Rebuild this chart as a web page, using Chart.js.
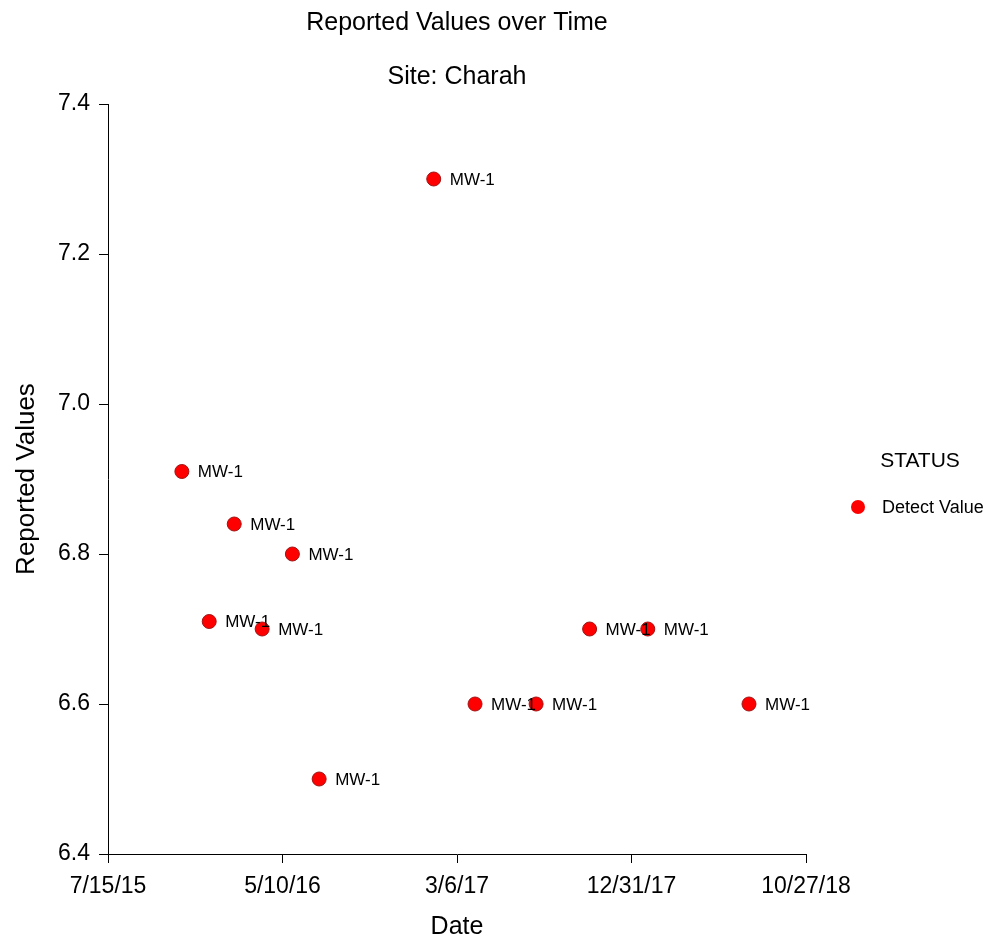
<!DOCTYPE html>
<html>
<head>
<meta charset="utf-8">
<script src="https://cdn.jsdelivr.net/npm/chart.js@4"></script>
<style>
  html, body { margin: 0; padding: 0; background: #fff; }
  #wrap { width: 988px; height: 942px; }
</style>
</head>
<body>
<div id="wrap"><canvas id="myChart"></canvas></div>
<script>
const sampleDates = ["2015-11-19", "2016-01-05", "2016-02-17", "2016-04-05", "2016-05-27", "2016-07-12",
  "2017-01-25", "2017-04-06", "2017-07-20", "2017-10-20", "2018-01-28", "2018-07-21"];
const reportedValues = [6.91, 6.71, 6.84, 6.70, 6.80, 6.50, 7.30, 6.60, 6.60, 6.70, 6.70, 6.60];
const wellLabels = ["MW-1", "MW-1", "MW-1", "MW-1", "MW-1", "MW-1", "MW-1", "MW-1", "MW-1", "MW-1", "MW-1", "MW-1"];
const xTickStart = "2015-07-15";
const xTickEnd = "2018-10-27";
const xTickStepDays = 300;
const yTicks = [6.4, 6.6, 6.8, 7.0, 7.2, 7.4];

const DAY = 86400000;
function toDay(s) {
  const p = s.split("-").map(Number);
  return Date.UTC(p[0], p[1] - 1, p[2]) / DAY;
}
function fmtDay(d) {
  const dt = new Date(Math.round(d) * DAY);
  return (dt.getUTCMonth() + 1) + "/" + dt.getUTCDate() + "/" + String(dt.getUTCFullYear()).slice(2);
}

const points = sampleDates.map((d, i) => ({ x: toDay(d), y: reportedValues[i] }));
const FONT = "Arial, 'Liberation Sans', sans-serif";

// titles centred over the plot area
const plotTitles = {
  id: "plotTitles",
  afterDraw(chart) {
    const ctx = chart.ctx;
    const a = chart.chartArea;
    const cx = (a.left + a.right) / 2;
    ctx.save();
    ctx.fillStyle = "#000";
    ctx.font = "25px " + FONT;
    ctx.textAlign = "center";
    ctx.textBaseline = "middle";
    ctx.fillText("Reported Values over Time", cx, 23);
    ctx.fillText("Site: Charah", cx, 77);
    ctx.restore();
  }
};

// labels next to each point
const pointLabels = {
  id: "pointLabels",
  afterDatasetsDraw(chart) {
    const ctx = chart.ctx;
    const meta = chart.getDatasetMeta(0);
    ctx.save();
    ctx.font = "17px " + FONT;
    ctx.fillStyle = "#000";
    ctx.textBaseline = "middle";
    meta.data.forEach((el, i) => {
      ctx.fillText(wellLabels[i], el.x + 16, el.y + 1);
    });
    ctx.restore();
  }
};

// legend block on the right
const statusLegend = {
  id: "statusLegend",
  afterDraw(chart) {
    const ctx = chart.ctx;
    const ds = chart.data.datasets[0];
    ctx.save();
    ctx.fillStyle = "#000";
    ctx.font = "21px " + FONT;
    ctx.textAlign = "center";
    ctx.textBaseline = "middle";
    ctx.fillText("STATUS", 920, 461);
    ctx.beginPath();
    ctx.arc(858, 507, 7, 0, Math.PI * 2);
    ctx.fillStyle = ds.backgroundColor;
    ctx.fill();
    ctx.fillStyle = "#000";
    ctx.font = "18px " + FONT;
    ctx.textAlign = "left";
    ctx.fillText(ds.label, 882, 508);
    ctx.restore();
  }
};

new Chart("myChart", {
  type: "scatter",
  data: {
    datasets: [{
      label: "Detect Value",
      data: points,
      backgroundColor: "rgb(255, 0, 0)",
      borderColor: "rgb(160, 20, 20)",
      borderWidth: 1,
      pointRadius: 7,
      pointHoverRadius: 7
    }]
  },
  options: {
    responsive: true,
    maintainAspectRatio: false,
    animation: false,
    layout: { padding: { top: 104, right: 182, bottom: 0, left: 0 } },
    scales: {
      x: {
        type: "linear",
        min: toDay(xTickStart),
        max: toDay(xTickEnd),
        afterBuildTicks(axis) {
          const t = [];
          for (let d = toDay(xTickStart); d <= toDay(xTickEnd) + 0.5; d += xTickStepDays) t.push({ value: d });
          axis.ticks = t;
        },
        afterFit(axis) { axis.height = 88; },
        ticks: {
          color: "#000",
          font: { family: FONT, size: 23 },
          maxRotation: 0,
          padding: 10,
          callback: (v) => fmtDay(v)
        },
        grid: { display: true, drawOnChartArea: false, drawTicks: true, tickLength: 9, color: "#000" },
        border: { display: true, color: "#000", width: 1 },
        title: { display: true, text: "Date", color: "#000", font: { family: FONT, size: 25 }, padding: { top: 0, bottom: 0 } }
      },
      y: {
        min: 6.4,
        max: 7.4,
        afterBuildTicks(axis) {
          axis.ticks = yTicks.map(v => ({ value: v }));
        },
        afterFit(axis) { axis.width = 108; },
        ticks: {
          color: "#000",
          font: { family: FONT, size: 23 },
          padding: 9,
          callback: (v) => Number(v).toFixed(1)
        },
        grid: { display: true, drawOnChartArea: false, drawTicks: true, tickLength: 9, color: "#000" },
        border: { display: true, color: "#000", width: 1 },
        title: { display: true, text: "Reported Values", color: "#000", font: { family: FONT, size: 26 }, padding: { top: 11, bottom: 0 } }
      }
    },
    plugins: {
      legend: { display: false },
      tooltip: { enabled: false },
      title: { display: false },
      subtitle: { display: false }
    }
  },
  plugins: [plotTitles, pointLabels, statusLegend]
});
</script>
</body>
</html>
